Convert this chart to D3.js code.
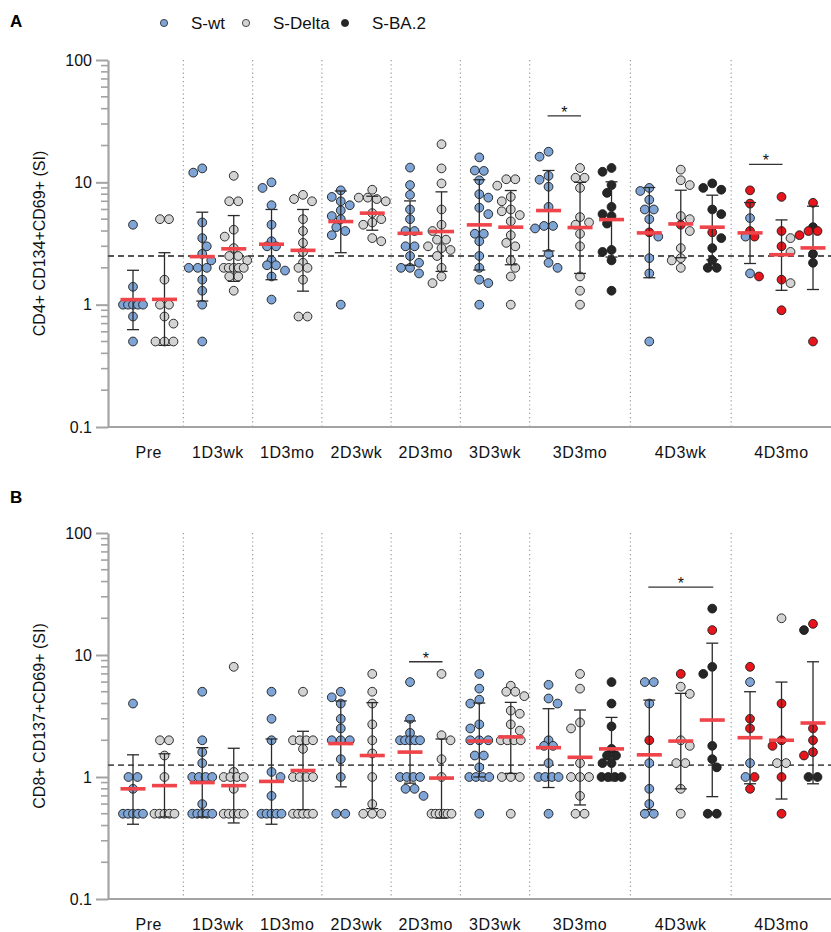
<!DOCTYPE html>
<html><head><meta charset="utf-8">
<script src="https://cdn.jsdelivr.net/npm/d3@7"></script>
<style>body{margin:0;background:#fff}text{font-family:"Liberation Sans",Arial,sans-serif}</style>
</head><body>
<script>
// ---------- data ----------
const groups = ["Pre","1D3wk","1D3mo","2D3wk","2D3mo","3D3wk","3D3mo","4D3wk","4D3mo"];
const seriesNames = ["S-wt","S-Delta","S-BA.2"];
const groupSeries = [[0,1],[0,1],[0,1],[0,1],[0,1],[0,1],[0,1,2],[0,1,2],[0,1,2]];
const yTicks = [0.1,1,10,100];

// Panel A: CD4+ CD134+CD69+ (SI)
const cd4Wt = [
 [4.5,1.4,1,1,1,1,1,0.8,0.5],
 [13,12,4.7,3.5,3.0,2.6,2.3,2,2,2,1.6,1.3,1.0,0.5],
 [10,9,6.5,4.5,3.3,3.0,3.0,2.3,2.1,2.1,1.9,1.7,1.1],
 [8.6,7.6,7.0,6.5,5.9,5.3,5.0,4.3,4.0,3.7,1.0],
 [13.2,9.5,7.9,6.0,5.0,4.0,4.0,3.0,3.0,2.5,2.2,2.0,2.0,1.8],
 [16,12.4,12.5,10.4,8.0,7.5,6.2,5.5,3.8,3.8,3.3,2.5,2.0,1.6,1.5,1.0],
 [17.8,16.2,11.3,10.5,9.2,6.3,4.4,4.4,4.2,2.6,2.2,2.0],
 [9.0,8.5,7.2,6.0,6.0,5.0,3.6,2.4,1.8,0.5],
 [5.1,3.6,1.8]];
const cd4WtInf = [[],[],[],[],[],[],[],[3.9],[8.6,6.7,4.0,3.6,1.7]];
const cd4Delta = [
 [5,5,1.6,1,1,0.8,0.7,0.5,0.5,0.5],
 [11.3,7,7,4.1,3.6,2.9,2.5,2.5,2.3,2,2,2,2,2,1.7,1.7,1.3],
 [7.9,7.3,7.0,5.0,4.0,3.2,2.7,2.2,2,2,1.6,0.8,0.8],
 [8.7,7.5,7.5,7.3,7.0,5.6,5.0,4.7,4.5,3.5,3.3],
 [20.5,13,9.8,6,4.5,4,3.4,3.4,3,2.9,2.8,2.5,2.0,1.7,1.5],
 [10.6,10.6,9.4,7.6,7.0,6.0,5.8,5.4,4.8,3.7,3.2,3.0,2.3,2.0,1.7,1.0],
 [13.1,10.9,10.9,9.0,5.2,4.7,4.5,3.8,3.0,1.7,1.3,1.0],
 [12.7,10.4,9.5,5.3,5.0,4.0,2.9,2.4,2.3,2.0],
 [3.5,2.7,1.5]];
const cd4DeltaInf = [[],[],[],[],[],[],[],[4.5],[7.6,4.0,3.0,1.6,0.9]];
const cd4Ba2 = [[],[],[],[],[],[],
 [13.1,12.2,9.5,8.2,6.3,5.5,5.3,4.6,2.8,2.7,2.3,1.3],
 [9.8,9.0,8.7,6.0,5.5,3.5,2.9,2.3,2.0,2.0],
 [4.3,2.6,2.2]];
const cd4Ba2Inf = [[],[],[],[],[],[],[],[3.9],[6.8,4.0,4.0,3.7,0.5]];
const cd4WtMean = [1.10,2.47,3.12,4.78,3.83,4.49,5.88,3.86,3.86];
const cd4WtLo   = [0.625,1.07,1.6,2.66,2.1,1.92,2.75,1.66,2.17];
const cd4WtHi   = [1.91,5.7,6.0,8.5,7.05,10.5,12.5,9.07,6.83];
const cd4DeltaMean = [1.105,2.86,2.78,5.6,3.96,4.3,4.27,4.57,2.56];
const cd4DeltaLo   = [0.465,1.55,1.29,4.06,1.87,2.12,1.8,2.42,1.31];
const cd4DeltaHi   = [2.66,5.35,6.0,7.7,8.36,8.57,10.0,8.62,4.93];
const cd4Ba2Mean = [null,null,null,null,null,null,4.96,4.3,2.91];
const cd4Ba2Lo   = [null,null,null,null,null,null,2.45,2.33,1.33];
const cd4Ba2Hi   = [null,null,null,null,null,null,10.1,7.85,6.38];
const cd4Cutoff = 2.5;
const cd4Sig = [[6,0,1,35],[8,0,1,14]]; // group, from col, to col, level

// Panel B: CD8+ CD137+CD69+ (SI)
const cd8Wt = [
 [4,1,1,0.8,0.5,0.5,0.5,0.5,0.5],
 [5,2,1.6,1.3,1,1,1,1,0.6,0.5,0.5,0.5,0.5,0.5],
 [5,3,2,1.1,1.0,0.7,0.5,0.5,0.5,0.5,0.5],
 [5,4.5,4,3,2.5,2,2,2,1.4,1,0.5,0.5],
 [6,3,2.3,2,2,2,2,2,1,1,1,1,0.8,0.8,0.7],
 [7,5.3,4.3,4,2.7,2.5,2,2,2,1.5,1.5,1.2,1,1,1,1,0.5],
 [5.7,4.4,4,2,1.8,1.8,1.3,1,1,1,1,0.5],
 [6,6,4,1.3,0.8,0.6,0.5,0.5],
 [6.0,1.3,1.0]];
const cd8WtInf = [[],[],[],[],[],[],[],[2.0],[8,3,2.5,1.0,0.8]];
const cd8Delta = [
 [2,2,1.5,1,0.5,0.5,0.5,0.5,0.5],
 [8,1.1,1,1,1,1,0.8,0.5,0.5,0.5,0.5,0.5],
 [5,2,2,2,2,1.7,1,1,1,1,0.5,0.5,0.5,0.5,0.5],
 [7,5,4,2.7,2,1.56,1,0.6,0.5,0.5,0.5],
 [7,2.2,2,1.4,1,0.5,0.5,0.5,0.5,0.5,0.5],
 [5.6,5.0,5.0,4.6,3.5,3.3,2.7,2.4,2,2,2,2,1,1,1,0.5],
 [7,5.3,2.8,2.5,1.3,1,1,1,0.7,0.5,0.5],
 [5.5,4.8,2,1.8,1.3,1.3,0.8,0.5],
 [20,1.3,1.3]];
const cd8DeltaInf = [[],[],[],[],[],[],[],[7],[4,2,1.8,1.0,0.5]];
const cd8Ba2 = [[],[],[],[],[],[],
 [6,4,2.6,1.7,1.5,1.5,1.3,1.3,1,1,1,1],
 [24,8,7,1.8,1.4,1.2,0.5,0.5],
 [16,1,1]];
const cd8Ba2Inf = [[],[],[],[],[],[],[],[16],[18,2.5,2,1.6,1.5]];
const cd8WtMean = [0.80,0.90,0.92,1.88,1.6,1.97,1.74,1.52,2.1];
const cd8WtLo   = [0.41,0.47,0.41,0.83,0.89,1.0,0.82,0.54,0.88];
const cd8WtHi   = [1.52,1.74,2.05,4.2,2.88,4.04,3.63,4.27,5.0];
const cd8DeltaMean = [0.85,0.85,1.13,1.5,0.98,2.13,1.45,1.97,2.0];
const cd8DeltaLo   = [0.47,0.42,0.54,0.55,0.46,1.07,0.59,0.8,0.66];
const cd8DeltaHi   = [1.55,1.72,2.37,4.07,2.05,4.09,3.54,4.85,6.0];
const cd8Ba2Mean = [null,null,null,null,null,null,1.7,2.93,2.77];
const cd8Ba2Lo   = [null,null,null,null,null,null,0.93,0.69,0.88];
const cd8Ba2Hi   = [null,null,null,null,null,null,3.08,12.5,8.8];
const cd8Cutoff = 1.25;
const cd8Sig = [[4,0,1,8.8],[7,0,2,36]];

// ---------- styles ----------
const seriesFill = ["#7ea5d6","#d3d3d3","#262626"];
const infFill = "#e8151c";
const meanColor = "#ef4449";
const W = 831, H = 932;

const svg = d3.select("body").append("svg").attr("width",W).attr("height",H);

// column positions (units: 1 per column, 1.2 between groups)
let u = 0;
const groupCols = groups.map((g,i)=>{
  const cols = groupSeries[i].map((s,k)=>u+k);
  u += groupSeries[i].length - 1 + 1.2;
  return cols;
});
const lastU = groupCols[groupCols.length-1].slice(-1)[0];
const x = d3.scaleLinear().domain([0,lastU]).range([133,813]);
const axisX = 108, plotRight = 831;

// Legend
const legX = [164,246,345];
seriesNames.forEach((n,i)=>{
  svg.append("circle").attr("cx",legX[i]).attr("cy",23).attr("r",3.6)
    .attr("fill",seriesFill[i]).attr("stroke","#222").attr("stroke-width",0.8);
  svg.append("text").attr("x",legX[i]+27).attr("y",29).attr("font-size",17).attr("fill","#111").text(n);
});

const panels = [
 {letter:"A", letterY:27, top:60, bottom:427, title:"CD4+ CD134+CD69+ (SI)",
  vals:[cd4Wt,cd4Delta,cd4Ba2], inf:[cd4WtInf,cd4DeltaInf,cd4Ba2Inf],
  mean:[cd4WtMean,cd4DeltaMean,cd4Ba2Mean], lo:[cd4WtLo,cd4DeltaLo,cd4Ba2Lo], hi:[cd4WtHi,cd4DeltaHi,cd4Ba2Hi],
  cutoff:cd4Cutoff, sig:cd4Sig},
 {letter:"B", letterY:503, top:533, bottom:899, title:"CD8+ CD137+CD69+ (SI)",
  vals:[cd8Wt,cd8Delta,cd8Ba2], inf:[cd8WtInf,cd8DeltaInf,cd8Ba2Inf],
  mean:[cd8WtMean,cd8DeltaMean,cd8Ba2Mean], lo:[cd8WtLo,cd8DeltaLo,cd8Ba2Lo], hi:[cd8WtHi,cd8DeltaHi,cd8Ba2Hi],
  cutoff:cd8Cutoff, sig:cd8Sig}
];

function swarm(points, y){
  const d = 9, maxHalf = 10, lim = 14;
  const pts = points.map(p=>Object.assign({},p,{py:y(p.v)})).sort((a,b)=>a.py-b.py);
  const rows = [];
  for (const p of pts){
    const r = rows[rows.length-1];
    if (r && Math.abs(p.py-r[0].py) < 1.5) r.push(p); else rows.push([p]);
  }
  const placed = [];
  rows.forEach((r,ri)=>{
    const n = r.length;
    const s = n<=3 ? d : Math.min(d, 2*maxHalf/(n-1));
    const pat = r.map((p,i)=>(i-(n-1)/2)*s);
    const half = d3.max(pat, Math.abs);
    const sign = ri%2 ? -1 : 1;
    const cands = [0, sign*d/2, -sign*d/2, sign*d, -sign*d, sign*1.5*d, -sign*1.5*d].filter(c=>Math.abs(c)+half<=lim);
    let best = 0, bestScore = -1;
    for (const c of cands){
      let m = Infinity;
      r.forEach((p,i)=>placed.forEach(q=>{
        const dist = Math.hypot(p.py-q.py, c+pat[i]-q.dx);
        if (dist<m) m = dist;
      }));
      if (m >= 0.95*d){ best = c; break; }
      if (m > bestScore){ bestScore = m; best = c; }
    }
    r.forEach((p,i)=>{ p.dx = best+pat[i]; placed.push(p); });
  });
  return pts;
}

panels.forEach(P=>{
  const g = svg.append("g");
  const y = d3.scaleLog().domain([0.1,100]).range([P.bottom,P.top]);

  g.append("text").attr("x",10).attr("y",P.letterY).attr("font-size",17).attr("font-weight","bold").text(P.letter);

  // separators
  for (let i=0;i<groups.length-1;i++){
    const sx = x((groupCols[i][groupCols[i].length-1] + groupCols[i+1][0])/2);
    g.append("line").attr("x1",sx).attr("x2",sx).attr("y1",P.top).attr("y2",P.bottom)
      .attr("stroke","#9a9a9a").attr("stroke-width",1.2).attr("stroke-dasharray","1.2,3");
  }

  // y axis
  const ax = d3.axisLeft(y).tickValues(yTicks).tickFormat(d3.format("~g")).tickSize(12).tickSizeOuter(0).tickPadding(4);
  const ag = g.append("g").attr("transform",`translate(${axisX},0)`).call(ax);
  ag.select(".domain").attr("stroke","#a3a3a3").attr("stroke-width",2.2);
  ag.selectAll(".tick line").attr("stroke","#a3a3a3").attr("stroke-width",2);
  ag.selectAll(".tick text").attr("font-size",16).attr("fill","#111").attr("font-family","Liberation Sans, Arial, sans-serif");
  const minor = [];
  yTicks.slice(0,-1).forEach(t=>{ for(let k=2;k<10;k++) minor.push(t*k); });
  g.selectAll(null).data(minor).join("line")
    .attr("x1",axisX-7).attr("x2",axisX).attr("y1",d=>y(d)).attr("y2",d=>y(d))
    .attr("stroke","#a3a3a3").attr("stroke-width",1.6);
  // x axis line
  g.append("line").attr("x1",axisX).attr("x2",plotRight).attr("y1",P.bottom).attr("y2",P.bottom)
    .attr("stroke","#a3a3a3").attr("stroke-width",2.2);

  // axis title
  const midY = (P.top+P.bottom)/2;
  g.append("text").attr("transform",`translate(45,${midY}) rotate(-90)`).attr("text-anchor","middle")
    .attr("font-size",16).attr("fill","#111").text(P.title);

  // x labels
  groups.forEach((name,i)=>{
    const cols = groupCols[i];
    const cx = x((cols[0]+cols[cols.length-1])/2);
    g.append("text").attr("x",cx).attr("y",P.bottom+31).attr("text-anchor","middle")
      .attr("font-size",16).attr("letter-spacing",0.6).attr("fill","#111").text(name);
  });

  // cutoff dashed line
  g.append("line").attr("x1",axisX).attr("x2",plotRight).attr("y1",y(P.cutoff)).attr("y2",y(P.cutoff))
    .attr("stroke","#555").attr("stroke-width",1.8).attr("stroke-dasharray","6,4");

  // dots
  groups.forEach((name,gi)=>{
    groupSeries[gi].forEach((s,k)=>{
      const cx = x(groupCols[gi][k]);
      const pts = P.vals[s][gi].map(v=>({v,inf:false})).concat(P.inf[s][gi].map(v=>({v,inf:true})));
      const laid = swarm(pts,y);
      g.selectAll(null).data(laid).join("circle")
        .attr("cx",d=>cx+d.dx).attr("cy",d=>d.py).attr("r",4.4)
        .attr("fill",d=>d.inf?infFill:seriesFill[s]).attr("stroke","#1a1a1a").attr("stroke-width",0.9);
      // error bar
      const lo = P.lo[s][gi], hi = P.hi[s][gi], m = P.mean[s][gi];
      const eg = g.append("g").attr("stroke","#2a2a2a").attr("stroke-width",1.3);
      eg.append("line").attr("x1",cx).attr("x2",cx).attr("y1",y(lo)).attr("y2",y(hi));
      eg.append("line").attr("x1",cx-6).attr("x2",cx+6).attr("y1",y(lo)).attr("y2",y(lo));
      eg.append("line").attr("x1",cx-6).attr("x2",cx+6).attr("y1",y(hi)).attr("y2",y(hi));
      g.append("rect").attr("x",cx-12.5).attr("y",y(m)-1.8).attr("width",25).attr("height",3.6).attr("fill",meanColor);
    });
  });

  // significance
  P.sig.forEach(([gi,a,b,lev])=>{
    const x1 = x(groupCols[gi][a])-1, x2 = x(groupCols[gi][b])+1, yy = y(lev);
    g.append("line").attr("x1",x1).attr("x2",x2).attr("y1",yy).attr("y2",yy).attr("stroke","#333").attr("stroke-width",1.3);
    g.append("text").attr("x",(x1+x2)/2).attr("y",yy+2).attr("text-anchor","middle").attr("font-size",16).attr("fill","#111").text("*");
  });
});
</script>
</body></html>
